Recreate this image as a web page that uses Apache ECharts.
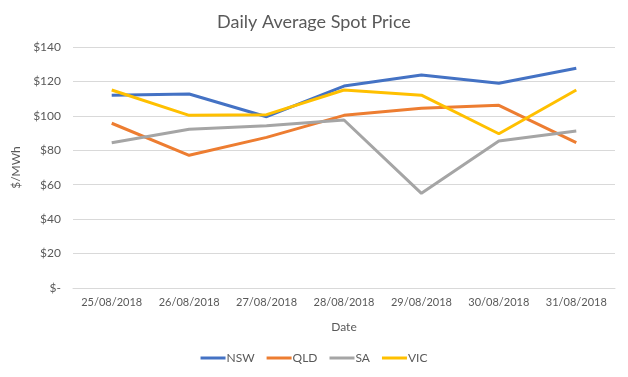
<!DOCTYPE html>
<html>
    <head>
        <meta charset="utf-8">
        <title>Daily Average Spot Price</title>
        <script src="https://cdn.jsdelivr.net/npm/echarts@6/dist/echarts.min.js"></script>
    </head>
    <body style="margin:0">
        <div id="container" style="width:628px;height:377px"></div>
    </body>
    <script>
        var dates = ['25/08/2018', '26/08/2018', '27/08/2018', '28/08/2018', '29/08/2018', '30/08/2018', '31/08/2018'];
        var nsw = [112, 112.7, 99.5, 117.3, 123.7, 118.9, 127.6];
        var qld = [95.7, 77.1, 87.5, 100.3, 104.4, 106.1, 84.4];
        var sa = [84.4, 92.2, 94.3, 97.6, 55, 85.4, 91.2];
        var vic = [115, 100.3, 100.7, 115, 112, 89.6, 115];

        var chartDom = document.getElementById('container');
        var myChart = echarts.init(chartDom);
        var font = 'Lato, "Open Sans", sans-serif';
        var grey = '#595959';

        function makeLine(name, data, color) {
            return {
                name: name,
                type: 'line',
                data: data,
                symbol: 'none',
                lineStyle: { width: 3, color: color },
                itemStyle: { color: color }
            };
        }

        var option = {
            animation: false,
            title: {
                text: 'Daily Average Spot Price',
                left: 'center',
                top: 8,
                textStyle: { fontFamily: font, fontSize: 18, fontWeight: 'normal', color: grey }
            },
            grid: { left: 73, right: 13, top: 47, bottom: 89 },
            legend: {
                bottom: 8,
                icon: 'rect',
                itemWidth: 25,
                itemHeight: 3,
                itemGap: 12,
                textStyle: { fontFamily: font, fontSize: 12, color: grey, padding: [0, 0, 0, -4] },
                data: ['NSW', 'QLD', 'SA', 'VIC']
            },
            xAxis: {
                type: 'category',
                data: dates,
                name: 'Date',
                nameLocation: 'middle',
                nameGap: 33,
                nameTextStyle: { fontFamily: font, fontSize: 12, color: grey },
                axisLine: { lineStyle: { color: '#d9d9d9' } },
                axisTick: { length: 5, lineStyle: { color: '#d9d9d9' } },
                axisLabel: { fontFamily: font, fontSize: 11, color: grey, margin: 9, interval: 0 }
            },
            yAxis: {
                type: 'value',
                min: 0,
                max: 140,
                interval: 20,
                name: '$/MWh',
                nameLocation: 'middle',
                nameGap: 48,
                nameTextStyle: { fontFamily: font, fontSize: 12, color: grey },
                axisLine: { show: false },
                axisTick: { show: false },
                splitLine: { lineStyle: { color: '#d9d9d9' } },
                axisLabel: {
                    fontFamily: font, fontSize: 12, color: grey, margin: 12,
                    formatter: function (v) { return v === 0 ? '$-' : '$' + v; }
                }
            },
            series: [
                makeLine('NSW', nsw, '#4472C4'),
                makeLine('QLD', qld, '#ED7D31'),
                makeLine('SA', sa, '#A5A5A5'),
                makeLine('VIC', vic, '#FFC000')
            ]
        };

        myChart.setOption(option);
    </script>
</html>
